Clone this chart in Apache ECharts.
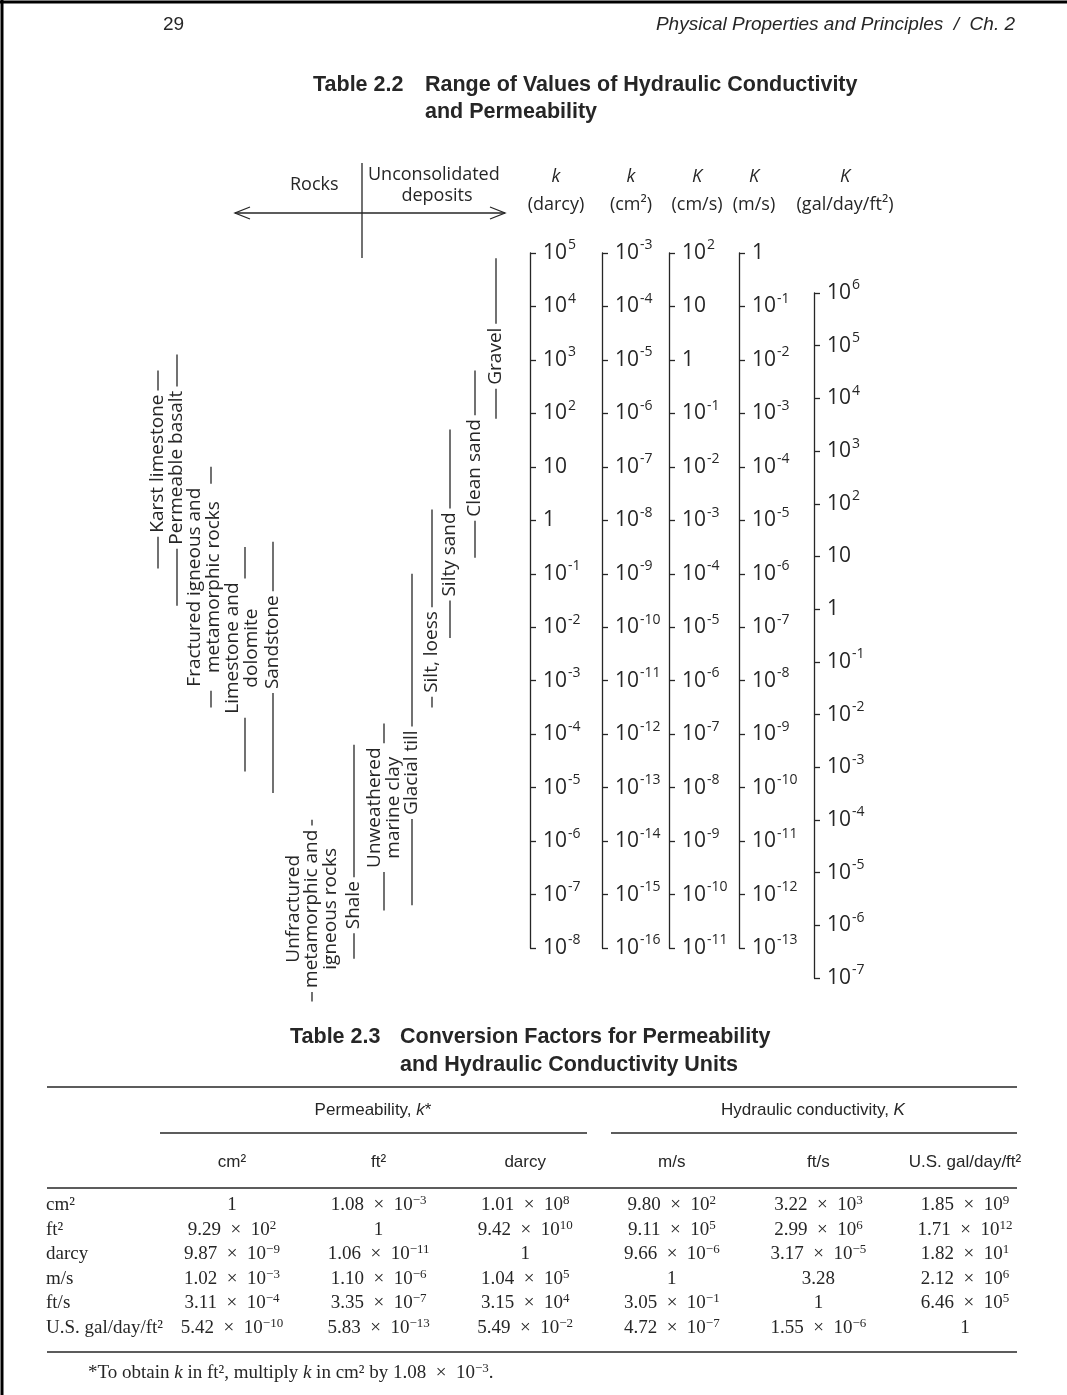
<!DOCTYPE html>
<html>
<head>
<meta charset="utf-8">
<script src="https://cdn.jsdelivr.net/npm/echarts@6/dist/echarts.min.js"></script>
<style>html,body{margin:0;padding:0;background:#fff}#c{width:1067px;height:1395px}</style>
</head>
<body>
<div id="c"></div>
<script>
// ================= DATA =================
// Table 2.2 : ranges, as log10 of permeability k (darcy)
const rockNames = ['Karst limestone', 'Permeable basalt', 'Fractured igneous and\nmetamorphic rocks',
  'Limestone and\ndolomite', 'Sandstone', 'Unfractured\nmetamorphic and\nigneous rocks', 'Shale',
  'Unweathered\nmarine clay', 'Glacial till', 'Silt, loess', 'Silty sand', 'Clean sand', 'Gravel'];
const rockLogLow  = [-0.9, -1.6, -3.5, -4.7, -5.1, -9.0, -8.2, -7.3, -7.2, -3.5, -2.2, -0.7, 1.9];
const rockLogHigh = [ 2.8,  3.1,  1.0, -0.5, -0.4, -5.6, -4.2, -3.8, -1.0,  0.2,  1.7,  2.8, 4.9];

// scale columns (log10 ranges of each unit)
const scaleSymbols = ['k', 'k', 'K', 'K', 'K'];
const scaleUnits = ['(darcy)', '(cm²)', '(cm/s)', '(m/s)', '(gal/day/ft²)'];
const scaleLogMin = [-8, -16, -11, -13, -7];
const scaleLogMax = [5, -3, 2, 0, 6];

// Table 2.3 : conversion factors
const convCols = ['cm²', 'ft²', 'darcy', 'm/s', 'ft/s', 'U.S. gal/day/ft²'];
const convRows = ['cm²', 'ft²', 'darcy', 'm/s', 'ft/s', 'U.S. gal/day/ft²'];
const rowCm2   = [1, 1.08e-3, 1.01e8, 9.80e2, 3.22e3, 1.85e9];
const rowFt2   = [9.29e2, 1, 9.42e10, 9.11e5, 2.99e6, 1.71e12];
const rowDarcy = [9.87e-9, 1.06e-11, 1, 9.66e-6, 3.17e-5, 1.82e1];
const rowMs    = [1.02e-3, 1.10e-6, 1.04e5, 1, 3.28, 2.12e6];
const rowFts   = [3.11e-4, 3.35e-7, 3.15e4, 3.05e-1, 1, 6.46e5];
const rowGal   = [5.42e-10, 5.83e-13, 5.49e-2, 4.72e-7, 1.55e-6, 1];

// ================= LAYOUT (positions / styles only) =================
const LAY = {
  rockX: [158, 177, 211, 245, 273, 312, 354, 384, 412, 432, 450, 475, 496],
  rockLabelFrac: [0.47, 0.45, 0.50, 0.45, 0.40, 0.49, 0.75, 0.45, 0.60, 0.72, 0.60, 0.52, 0.61],
  rockLabelDx: [0, 0, -7, -3, 0, 0, 0, 0, 0, 0, 0, 0, 0],
  scaleX: [530, 602, 669, 739, 814],
  scaleTop: [253, 253, 253, 253, 293],
  scaleBottom: [948, 948, 948, 948, 978],
  headX: [556, 631, 697, 754, 845]
};
const INK = '#262626';
const SANS = '"Open Sans", "DejaVu Sans", sans-serif';
const ARIAL = '"Liberation Sans", Arial, sans-serif';
const SERIF = '"Liberation Serif", "Times New Roman", serif';
const DEC = (948 - 253) / 13;

function powLabel(v) {
  const e = Math.round(v);
  if (e === 0) return '{n|1}';
  if (e === 1) return '{n|10}';
  return '{n|10}{s|' + (e < 0 ? '-' : '') + Math.abs(e) + '}';
}
function sci(v) {
  if (v === 1) return '{n|1}';
  const e = Math.floor(Math.log10(v) + 1e-9);
  if (e === 0) return '{n|' + v.toFixed(2) + '}';
  const m = (v / Math.pow(10, e)).toFixed(2);
  return '{n|' + m + '\u2002×\u200210}{s|' + (e < 0 ? '\u2212' : '') + Math.abs(e) + '}';
}

// ================= AXES / GRIDS =================
const grids = [], xAxes = [], yAxes = [];
// grid 0: rock / deposit ranges, same vertical scale as the darcy column
grids.push({left: 0, width: 1067, top: 253, height: 15 * DEC, outerBoundsMode: 'none'});
xAxes.push({gridIndex: 0, type: 'value', min: 0, max: 1067, show: false});
yAxes.push({gridIndex: 0, type: 'value', min: -10, max: 5, show: false});

for (let j = 0; j < 5; j++) {
  const gi = j + 1;
  grids.push({left: LAY.scaleX[j], width: 1, top: LAY.scaleTop[j],
    height: LAY.scaleBottom[j] - LAY.scaleTop[j], outerBoundsMode: 'none'});
  xAxes.push({gridIndex: gi, type: 'value', min: 0, max: 1, show: false});
  yAxes.push({
    gridIndex: gi, type: 'value', position: 'left',
    min: scaleLogMin[j], max: scaleLogMax[j], interval: 1,
    axisLine: {show: true, onZero: false, lineStyle: {color: INK, width: 1.3}},
    axisTick: {show: true, inside: true, length: 6, lineStyle: {color: INK, width: 1.3}},
    splitLine: {show: false},
    axisLabel: {
      inside: true, margin: 13, color: INK, formatter: powLabel,
      rich: {
        n: {fontSize: 21, fontFamily: SANS, color: INK, lineHeight: 29, verticalAlign: 'middle'},
        s: {fontSize: 14, fontFamily: SANS, color: INK, lineHeight: 14, verticalAlign: 'top', padding: [0, 0, 0, 1]}
      }
    }
  });
}

// grid 6: conversion table
const tTop = 1192.7, tRow = 24.6, tLeft = 158.7, tColW = 146.6;
grids.push({left: tLeft, width: tColW * 6, top: tTop, height: tRow * 6, outerBoundsMode: 'none'});
xAxes.push({
  gridIndex: 6, type: 'category', data: convCols, position: 'top',
  axisLine: {show: false}, axisTick: {show: false}, splitLine: {show: false},
  axisLabel: {interval: 0, margin: 22, color: INK, fontFamily: ARIAL, fontSize: 17}
});
yAxes.push({
  gridIndex: 6, type: 'category', data: convRows, inverse: true,
  axisLine: {show: false}, axisTick: {show: false}, splitLine: {show: false},
  axisLabel: {interval: 0, align: 'left', margin: tLeft - 46, color: INK, fontFamily: SERIF, fontSize: 19}
});

// ================= SERIES =================
const rockData = rockNames.map((n, i) => [LAY.rockX[i], rockLogLow[i], rockLogHigh[i]]);
const rowValues = [rowCm2, rowFt2, rowDarcy, rowMs, rowFts, rowGal];
const cells = [];
rowValues.forEach((row, r) => row.forEach((v, c) => cells.push({value: [c, r], txt: sci(v)})));

const series = [
  {
    type: 'custom', xAxisIndex: 0, yAxisIndex: 0, silent: true, clip: false,
    data: rockData,
    renderItem: function (params, api) {
      const i = params.dataIndex;
      const pHi = api.coord([api.value(0), api.value(2)]);
      const pLo = api.coord([api.value(0), api.value(1)]);
      const cy = pHi[1] + (pLo[1] - pHi[1]) * LAY.rockLabelFrac[i];
      return {
        type: 'group',
        children: [
          {type: 'line', shape: {x1: pHi[0], y1: pHi[1], x2: pLo[0], y2: pLo[1]},
           style: {stroke: INK, lineWidth: 1.3}},
          {type: 'text', x: pHi[0] + LAY.rockLabelDx[i], y: cy, rotation: Math.PI / 2,
           style: {text: rockNames[i], fill: INK, fontSize: 19, fontFamily: SANS,
             align: 'center', verticalAlign: 'middle', textAlign: 'center', textVerticalAlign: 'middle',
             lineHeight: 18.5, backgroundColor: '#fff', padding: [0, 4]}}
        ]
      };
    }
  },
  {
    type: 'custom', xAxisIndex: 6, yAxisIndex: 6, silent: true,
    data: cells.map(c => c.value),
    renderItem: function (params, api) {
      const p = api.coord([api.value(0), api.value(1)]);
      return {
        type: 'text', x: p[0], y: p[1],
        style: {
          text: cells[params.dataIndex].txt, fill: INK,
          align: 'center', verticalAlign: 'middle', textAlign: 'center', textVerticalAlign: 'middle',
          rich: {
            n: {fontSize: 19, fontFamily: SERIF, fill: INK, color: INK, lineHeight: 22, verticalAlign: 'middle'},
            s: {fontSize: 13, fontFamily: SERIF, fill: INK, color: INK, lineHeight: 13, verticalAlign: 'top'}
          }
        }
      };
    }
  }
];

// ================= ANNOTATIONS =================
function txt(x, y, text, o) {
  o = o || {};
  return {
    type: 'text', x: x, y: y, silent: true,
    style: Object.assign({
      text: text, fill: INK, fontSize: 17, fontFamily: ARIAL,
      align: o.align || 'left', textAlign: o.align || 'left',
      verticalAlign: 'middle', textVerticalAlign: 'middle'
    }, o.style || {})
  };
}
function ln(x1, y1, x2, y2, w, c) {
  return {type: 'line', silent: true, shape: {x1: x1, y1: y1, x2: x2, y2: y2},
    style: {stroke: c || INK, lineWidth: w || 1.3}};
}
const g = [];
// page frame
g.push(ln(0, 2, 1067, 2, 3, '#000'));
g.push(ln(2, 0, 2, 1395, 3, '#000'));
// running head
g.push(txt(163, 25, '29', {style: {fontSize: 19}}));
g.push(txt(1015, 25, 'Physical Properties and Principles  /  Ch. 2', {align: 'right', style: {fontSize: 19, fontStyle: 'italic'}}));
// table 2.2 title
const tb = {fontSize: 21.5, fontWeight: 'bold'};
g.push(txt(313, 85, 'Table 2.2', {style: tb}));
g.push(txt(425, 85, 'Range of Values of Hydraulic Conductivity', {style: tb}));
g.push(txt(425, 112, 'and Permeability', {style: tb}));
// rocks / unconsolidated header
g.push(txt(290, 185, 'Rocks', {style: {fontFamily: SANS, fontSize: 18}}));
g.push(txt(368, 175, 'Unconsolidated', {style: {fontFamily: SANS, fontSize: 18}}));
g.push(txt(437, 196, 'deposits', {align: 'center', style: {fontFamily: SANS, fontSize: 18}}));
g.push(ln(362, 163, 362, 258, 1.3));
g.push(ln(235, 213, 505, 213, 1.3));
g.push({type: 'polyline', silent: true, shape: {points: [[250, 207], [235, 213], [250, 219]]}, style: {stroke: INK, lineWidth: 1.3, fill: null}});
g.push({type: 'polyline', silent: true, shape: {points: [[490, 207], [505, 213], [490, 219]]}, style: {stroke: INK, lineWidth: 1.3, fill: null}});
// scale column headers
for (let j = 0; j < 5; j++) {
  g.push(txt(LAY.headX[j], 177, scaleSymbols[j], {align: 'center', style: {fontFamily: SANS, fontSize: 18, fontStyle: 'italic'}}));
  g.push(txt(LAY.headX[j], 205, scaleUnits[j], {align: 'center', style: {fontFamily: SANS, fontSize: 18}}));
}
// table 2.3 title
g.push(txt(290, 1037, 'Table 2.3', {style: tb}));
g.push(txt(400, 1037, 'Conversion Factors for Permeability', {style: tb}));
g.push(txt(400, 1065, 'and Hydraulic Conductivity Units', {style: tb}));
// table rules
g.push(ln(47, 1087, 1017, 1087));
g.push(ln(160, 1133, 587, 1133));
g.push(ln(611, 1133, 1017, 1133));
g.push(ln(47, 1188, 1017, 1188));
g.push(ln(47, 1352, 1017, 1352));
const hdrRich = {
  r: {fontSize: 17, fontFamily: ARIAL, color: INK, fill: INK},
  i: {fontSize: 17, fontFamily: ARIAL, fontStyle: 'italic', color: INK, fill: INK}
};
g.push(txt(373, 1110, '{r|Permeability, }{i|k}{r|*}', {align: 'center', style: {rich: hdrRich}}));
g.push(txt(813, 1110, '{r|Hydraulic conductivity, }{i|K}', {align: 'center', style: {rich: hdrRich}}));
// footnote
g.push(txt(88, 1373, '{r|*To obtain }{i|k}{r| in ft², multiply }{i|k}{r| in cm² by 1.08\u2002×\u200210}{s|\u22123}{r|.}', {style: {rich: {
  r: {fontSize: 19, fontFamily: SERIF, color: INK, fill: INK, lineHeight: 22, verticalAlign: 'middle'},
  i: {fontSize: 19, fontFamily: SERIF, fontStyle: 'italic', color: INK, fill: INK, lineHeight: 22, verticalAlign: 'middle'},
  s: {fontSize: 13, fontFamily: SERIF, color: INK, fill: INK, lineHeight: 13, verticalAlign: 'top'}
}}}));

const chart = echarts.init(document.getElementById('c'), null, {renderer: 'canvas', width: 1067, height: 1395});
chart.setOption({
  backgroundColor: '#fff',
  animation: false,
  grid: grids,
  xAxis: xAxes,
  yAxis: yAxes,
  series: series,
  graphic: {elements: g}
});
</script>
</body>
</html>
